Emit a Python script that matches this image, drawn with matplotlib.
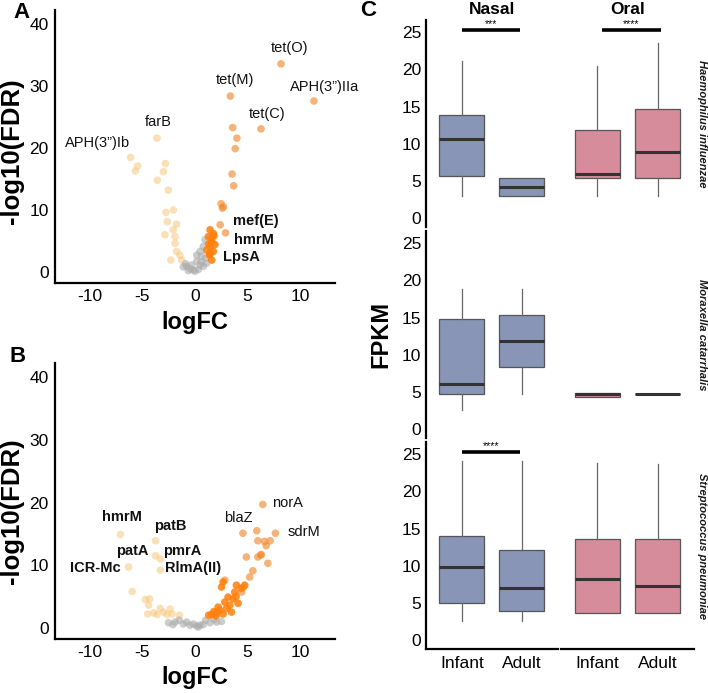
import matplotlib
matplotlib.use('Agg')
import matplotlib.pyplot as plt

plt.rcParams['font.family'] = ['Liberation Sans', 'DejaVu Sans']
plt.rcParams['axes.unicode_minus'] = False

# ---- panel A : volcano (logFC, -log10 FDR) ----
a_light_x = [-3.61, -6.12, -5.44, -5.66, -2.81, -3.0, -3.58, -2.54, -2.76, -2.06, -2.63, -1.75, -2.06, -2.86, -1.9, -1.9, -1.75, -1.43, -2.3, -1.27]
a_light_y = [21.6, 18.5, 17.1, 16.3, 17.5, 16.2, 14.8, 13.2, 9.6, 10.0, 8.1, 7.7, 6.8, 6.0, 5.7, 4.6, 3.3, 2.7, 1.9, 1.9]
a_orange_x = [8.17, 11.3, 3.36, 6.27, 3.58, 3.98, 3.82, 3.52, 3.67, 2.48, 2.7, 2.6, 2.39, 2.9]
a_orange_y = [33.6, 27.6, 28.4, 23.1, 23.3, 21.6, 19.9, 15.8, 13.9, 11.0, 10.5, 10.3, 7.6, 6.3]
a_dark_x = [1.43, 1.75, 1.27, 1.59, 1.43, 1.75, 1.37, 1.59, 1.9, 1.11, 1.6, 1.3, 1.45, 1.8]
a_dark_y = [6.8, 6.2, 5.7, 4.9, 4.1, 3.3, 2.7, 1.9, 4.4, 3.5, 5.5, 4.5, 3.0, 5.8]
a_gray_x = [0.95, 0.79, 0.48, 0.63, 0.16, -0.32, -0.79, -1.11, -0.16, 0.32, 0.79, 1.11, -0.63, 0.48, 0.16, -0.45, 0.0, -0.9, 1.0, 0.6]
a_gray_y = [5.2, 4.1, 3.3, 2.5, 1.7, 1.1, 0.9, 0.8, 0.3, 0.4, 0.9, 1.4, 0.2, 1.1, 2.7, 0.5, 0.1, 1.3, 2.2, 1.6]
a_labels = ['tet(O)', 'APH(3”)IIa', 'tet(M)', 'tet(C)', 'farB', 'APH(3”)Ib', 'mef(E)', 'hmrM', 'LpsA']
a_label_bold = [False, False, False, False, False, False, True, True, True]

# ---- panel B ----
b_light_x = [-7.09, -3.75, -3.75, -3.28, -6.31, -3.28, -5.97, -4.72, -4.31, -4.4, -3.93, -3.3, -2.99, -2.36, -2.2, -2.67, -3.61, -1.48, -4.5]
b_light_y = [14.9, 13.9, 11.5, 11.0, 9.7, 9.2, 5.8, 4.5, 4.6, 3.6, 2.4, 3.1, 2.5, 3.0, 2.2, 2.1, 2.1, 2.0, 2.2]
b_orange_x = [6.44, 4.55, 5.87, 7.64, 5.97, 6.6, 7.14, 6.76, 6.29, 5.97, 4.88, 6.92, 5.5, 5.19, 2.83, 6.25, 4.63, 4.44]
b_orange_y = [19.7, 15.1, 15.5, 15.1, 13.9, 13.8, 13.9, 13.1, 11.7, 11.3, 11.3, 10.3, 9.1, 8.1, 7.6, 11.6, 6.5, 5.7]
b_dark_x = [1.57, 2.04, 2.36, 2.67, 2.99, 3.3, 2.83, 3.61, 3.14, 3.77, 2.52, 2.67, 3.93, 4.4, 4.72, 2.2, 3.46, 4.09, 1.79, 1.3, 2.0, 3.9]
b_dark_y = [2.1, 2.4, 2.8, 2.2, 3.1, 3.6, 4.1, 4.6, 4.9, 5.7, 6.5, 7.3, 6.8, 6.3, 6.8, 3.3, 2.5, 3.9, 2.6, 2.0, 1.9, 5.0]
b_gray_x = [-2.52, -1.89, -1.1, -0.47, 0.16, 0.78, 1.42, 2.04, 2.52, -0.16, 0.47, -0.79, -1.5, 1.0, -2.1, 0.3, 1.8]
b_gray_y = [0.8, 0.9, 0.6, 0.4, 0.3, 0.5, 0.8, 0.9, 1.0, 0.6, 0.4, 0.9, 1.2, 1.2, 0.5, 0.1, 1.3]
b_labels = ['norA', 'blaZ', 'sdrM', 'hmrM', 'patB', 'patA', 'pmrA', 'ICR-Mc', 'RlmA(II)']
b_label_bold = [False, False, False, True, True, True, True, True, True]

# ---- panel C : FPKM boxplots (whislo, q1, median, q3, whishi) ----
species = ['Haemophilus influenzae', 'Moraxella catarrhalis', 'Streptococcus pneumoniae']
sites = ['Nasal', 'Oral']
ages = ['Infant', 'Adult']
hi_nasal = [[3.0, 5.7, 10.7, 13.9, 21.1], [3.05, 3.05, 4.25, 5.4, 5.4]]
hi_oral = [[3.0, 5.4, 6.0, 11.8, 20.5], [3.0, 5.4, 8.9, 14.7, 23.5]]
mc_nasal = [[2.6, 4.8, 6.1, 14.8, 18.9], [4.8, 8.35, 11.8, 15.4, 18.9]]
mc_oral = [[4.3, 4.3, 4.75, 4.9, 4.9], [4.77, 4.77, 4.77, 4.77, 4.77]]
sp_nasal = [[2.6, 5.05, 9.8, 14.0, 24.1], [2.6, 3.9, 7.0, 12.1, 24.1]]
sp_oral = [[3.6, 3.6, 8.2, 13.6, 23.8], [3.6, 3.6, 7.3, 13.6, 23.7]]
box_stats = [[hi_nasal, hi_oral], [mc_nasal, mc_oral], [sp_nasal, sp_oral]]
# significance: (species row, site col, stars)
signif = [(0, 0, '***'), (0, 1, '****'), (2, 0, '****')]

W, H = 708, 693
fig = plt.figure(figsize=(W / 100, H / 100), dpi=100)

c_light, c_orange, c_dark, c_gray = '#F7C77C', '#F28A2E', '#FF7F0A', '#ABABAB'


def volcano(rect, groups, labels, bold, lab_pos, lab_ha):
    ax = fig.add_axes(rect)
    for (xs, ys, col, al) in groups:
        ax.scatter(xs, ys, s=30, color=col, alpha=al, edgecolors='none', zorder=2)
    for lab, b, (lx, ly), ha in zip(labels, bold, lab_pos, lab_ha):
        ax.text(lx, ly, lab, fontsize=10.5, fontweight='bold' if b else 'normal',
                ha=ha, va='center', clip_on=False, color='#111111')
    ax.set_xlim(-13.3, 13.3)
    ax.set_ylim(-1.8, 42.3)
    ax.set_xticks([-10, -5, 0, 5, 10])
    ax.set_yticks([0, 10, 20, 30, 40])
    for s in ['top', 'right']:
        ax.spines[s].set_visible(False)
    for s in ['left', 'bottom']:
        ax.spines[s].set_linewidth(1.6)
    ax.tick_params(length=0, labelsize=12.5, pad=4.5)
    ax.set_xlabel('logFC', fontsize=17, fontweight='bold')
    ax.set_ylabel('-log10(FDR)', fontsize=18.5, fontweight='bold')
    return ax


axA = volcano([55 / W, 1 - 283 / H, 280 / W, 273 / H],
              [(a_light_x, a_light_y, c_light, 0.55), (a_gray_x, a_gray_y, c_gray, 0.6),
               (a_orange_x, a_orange_y, c_orange, 0.65), (a_dark_x, a_dark_y, c_dark, 0.85)],
              a_labels, a_label_bold,
              [(8.95, 36.1), (9.05, 29.8), (3.8, 31.0), (6.83, 25.5), (-3.5, 24.2), (-9.3, 20.8),
               (3.6, 8.2), (3.7, 5.2), (2.67, 2.4)],
              ['center', 'left', 'center', 'center', 'center', 'center', 'left', 'left', 'left'])
axA.xaxis.set_label_coords(0.5, -0.143)
axA.xaxis.label.set_va('center')
axA.yaxis.set_label_coords(-0.154, 0.484)
axA.yaxis.label.set_va('center')

axB = volcano([55 / W, 1 - 639 / H, 280 / W, 276 / H],
              [(b_light_x, b_light_y, c_light, 0.55), (b_gray_x, b_gray_y, c_gray, 0.6),
               (b_orange_x, b_orange_y, c_orange, 0.65), (b_dark_x, b_dark_y, c_dark, 0.85)],
              b_labels, b_label_bold,
              [(7.34, 20.0), (4.16, 17.5), (8.75, 15.3), (-6.97, 17.7), (-2.34, 16.2), (-5.94, 12.3),
               (-1.25, 12.3), (-9.44, 9.6), (-0.16, 9.6)],
              ['left', 'center', 'left', 'center', 'center', 'center', 'center', 'center', 'center'])
axB.xaxis.set_label_coords(0.5, -0.138)
axB.xaxis.label.set_va('center')
axB.yaxis.set_label_coords(-0.154, 0.464)
axB.yaxis.label.set_va('center')

fig.text(21 / W, 1 - 13 / H, 'A', fontsize=16, fontweight='bold', ha='center', va='center')
fig.text(18 / W, 1 - 356 / H, 'B', fontsize=16, fontweight='bold', ha='center', va='center')
fig.text(368 / W, 1 - 11 / H, 'C', fontsize=16, fontweight='bold', ha='center', va='center')

# ---- panel C facets ----
rows_px = [(20.2, 227.2), (231.2, 438.2), (442.2, 649.2)]
cols_px = [(426, 558), (561, 694)]
fills = ['#8895B6', '#D68C9B']

for i, (top, bot) in enumerate(rows_px):
    for j, (lft, rgt) in enumerate(cols_px):
        ax = fig.add_axes([lft / W, 1 - bot / H, (rgt - lft) / W, (bot - top) / H])
        stats = []
        for k, age in enumerate(ages):
            lo, q1, med, q3, hi = box_stats[i][j][k]
            stats.append(dict(whislo=lo, q1=q1, med=med, q3=q3, whishi=hi, label=age))
        ax.bxp(stats, positions=[1, 2], widths=0.75, showfliers=False, showcaps=False,
               patch_artist=True,
               boxprops=dict(facecolor=fills[j], edgecolor='#555555', linewidth=0.9),
               medianprops=dict(color='#333333', linewidth=2.2, solid_capstyle='butt'),
               whiskerprops=dict(color='#666666', linewidth=0.9))
        ax.set_xlim(0.4, 2.6)
        ax.set_ylim(-1.2, 26.6)
        for s in ['top', 'right', 'left', 'bottom']:
            ax.spines[s].set_visible(False)
        ax.spines['left'].set_linewidth(1.6)
        ax.spines['bottom'].set_linewidth(1.6)
        if j == 0:
            ax.spines['left'].set_visible(True)
            ax.set_yticks([0, 5, 10, 15, 20, 25])
        else:
            ax.set_yticks([])
        if i == 2:
            ax.spines['bottom'].set_visible(True)
            ax.set_xticks([1, 2])
            ax.set_xticklabels(ages)
        else:
            ax.set_xticks([])
        ax.tick_params(length=0, labelsize=12.5, pad=3.5)
        ax.tick_params(axis='x', pad=5)
        for (si, sj, stars) in signif:
            if si == i and sj == j:
                x0, x1 = (1.0, 1.97) if j == 0 else (1.07, 2.05)
                ax.plot([x0, x1], [25.3, 25.3], color='black', lw=2.6, solid_capstyle='butt', clip_on=False)
                ax.text((x0 + x1) / 2, 25.45, stars, fontsize=7.5, ha='center', va='bottom',
                        clip_on=False)
    fig.text(702 / W, 1 - (top + bot) / 2 / H, species[i], rotation=-90, fontsize=8,
             fontweight='bold', style='italic', ha='center', va='center', color='#1a1a1a')

for j, (lft, rgt) in enumerate(cols_px):
    fig.text((lft + rgt) / 2 / W, 1 - 9 / H, sites[j], fontsize=12.5, fontweight='bold',
             ha='center', va='center')

fig.text(381 / W, 1 - 334 / H, 'FPKM', rotation=90, fontsize=17, fontweight='bold',
         ha='center', va='center')

fig.savefig('out.png', dpi=100)
